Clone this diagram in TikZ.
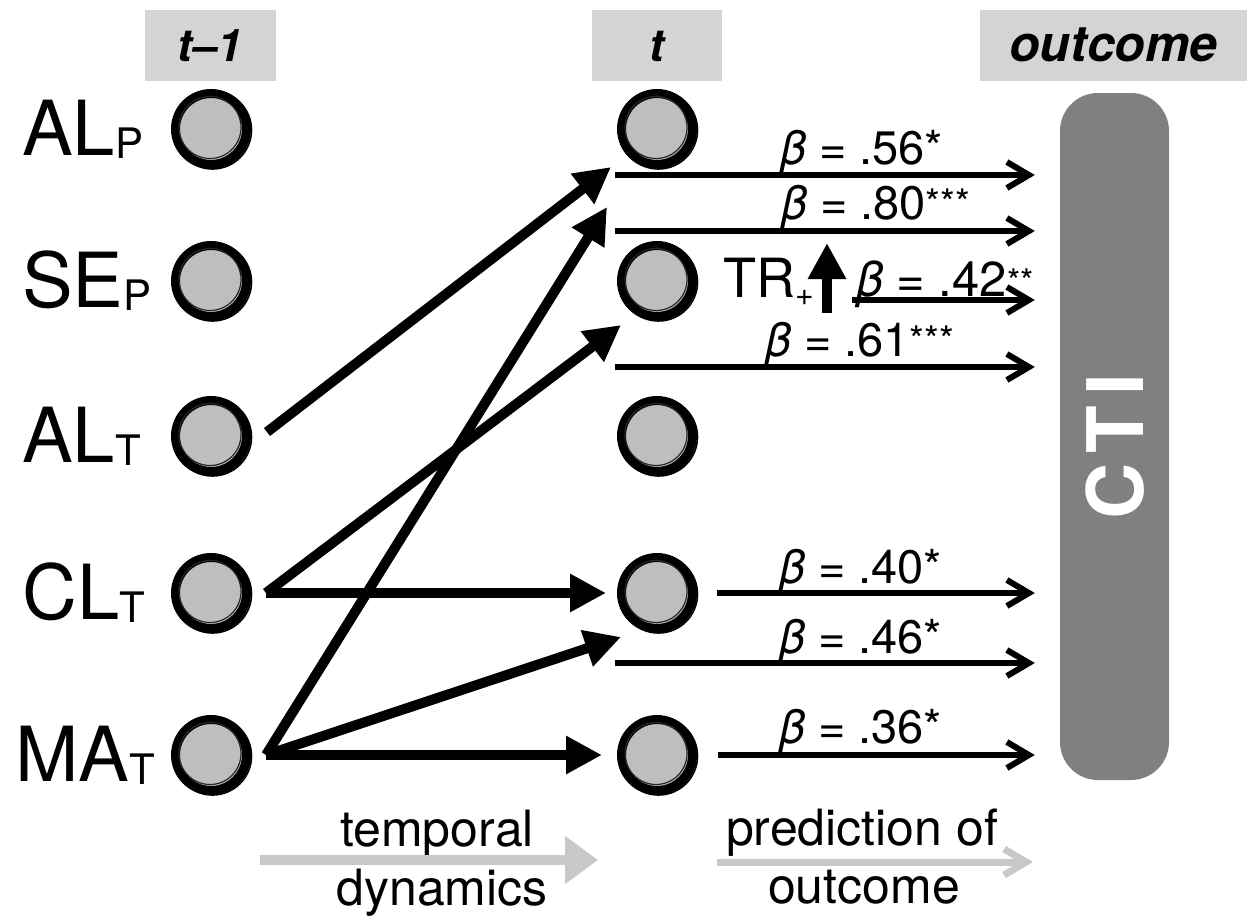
\documentclass[tikz,border=0pt]{standalone}
\usepackage{fontspec}
\setmainfont{TeX Gyre Heros}
\usetikzlibrary{arrows.meta,calc}
\definecolor{hdr}{HTML}{D4D4D4}
\definecolor{dotfill}{HTML}{BEBEBE}
\definecolor{barfill}{HTML}{808080}
\definecolor{lgray}{HTML}{C8C8C8}
\newcommand\fs[1]{\fontsize{#1}{#1}\selectfont}
\newcommand\lsub[1]{{\fs{42}\raisebox{-3pt}{#1}}}
\newcommand\bet{{\itshape β}}
\newcommand\stars[1]{{\fs{38}\raisebox{3pt}{#1}}}
\begin{document}
\begin{tikzpicture}[x=1pt,y=-1pt,
  hdrbox/.style={fill=hdr, inner sep=0pt, minimum height=71pt, text height=32pt, text depth=0pt, font=\fs{45}\bfseries\itshape},
  dot/.style={circle, draw=black, line width=9pt, fill=dotfill, minimum size=71pt, inner sep=0pt},
  varlab/.style={anchor=base west, inner sep=0pt, font=\fs{76}},
  dyn/.style={line width=10pt, -{Triangle[length=36pt,width=36pt]}},
  pred/.style={line width=6pt, -{Straight Barb[length=22pt,width=26pt]}},
  betalab/.style={anchor=base west, inner sep=0pt, font=\fs{47}},
  bottomlab/.style={anchor=base, inner sep=0pt, font=\fs{50}},
  sketch/.style={line width=1.6pt, black},
  grayarrow/.style={lgray},
]
\useasboundingbox (0,0) rectangle (1247,919);

% headers
\node[hdrbox, minimum width=131pt] (h1) at (210.5,45.5) {t–1};
\node[hdrbox, minimum width=130pt] (h2) at (657,45.5) {t};
\node[hdrbox, minimum width=267pt, font=\fs{50}\bfseries\itshape] (h3) at (1113.5,45.5) {outcome};

% outcome bar
\node[fill=barfill, rounded corners=38pt, minimum width=109pt, minimum height=687pt, inner sep=0pt] (cti) at (1114.5,436.5) {};
\node[rotate=90, text=white, font=\fs{78}\bfseries, inner sep=0pt] (ctitext) at (1115,447) {C\kern10pt T\kern10pt I};

% circles
\foreach \i/\y in {1/129,2/281,3/436,4/593,5/755} {
  \node[dot] (l\i) at (211,\y) {};
  \node[dot] (t\i) at (657,\y) {};
}
\foreach \n in {l1,l2,l3,l4,l5,t1,t2,t3,t4,t5} {
  \draw[sketch] ([shift={(1.5pt,-1pt)}]\n.center) circle (39pt);
  \draw[line width=1.2pt, black!85] ([shift={(-1pt,1.5pt)}]\n.center) circle (31pt);
}

% variable labels
\node[varlab] (lab1) at (22,155) {AL\lsub{P}};
\node[varlab] (lab2) at (22,307) {SE\lsub{P}};
\node[varlab] (lab3) at (22,462) {AL\lsub{T}};
\node[varlab] (lab4) at (22,619) {CL\lsub{T}};
\node[varlab] (lab5) at (15,781) {MA\lsub{T}};

% temporal dynamics arrows
\coordinate (s3) at ($(l3.center)+(56,-4)$);
\coordinate (s4) at ($(l4.center)+(55,0)$);
\coordinate (s5) at ($(l5.center)+(55,0)$);
\coordinate (e1) at (611,167);
\coordinate (e2) at (621,325);
\coordinate (e3) at (607,207);
\coordinate (e4) at (621,637);
\draw[dyn] (s3) -- (e1);
\draw[dyn] (s4) -- (e2);
\draw[dyn, shorten >=11pt] (s4) -- (t4);
\draw[dyn] (s5) -- (e3);
\draw[dyn] (s5) -- (e4);
\draw[dyn, shorten >=15pt] (s5) -- (t5);

% prediction arrows
\coordinate (p1) at (615,175);
\coordinate (p2) at (615,231);
\coordinate (p3) at (852,300);
\coordinate (p4) at (615,367);
\coordinate (p5) at (717,593);
\coordinate (p6) at (615,663);
\coordinate (p7) at (718,755);
\foreach \p in {p1,p2,p3,p4,p5,p6,p7}
  \draw[pred, shorten >=25pt] (\p) -- (\p -| cti.west);

\node[betalab] (b1) at (780,164) {\bet{} = .56*};
\node[betalab] (b2) at (781,219) {\bet{} = .80\stars{***}};
\node[betalab, font=\fs{49}] (b3) at (856,296) {\bet{} = .42{\fs{34}\raisebox{3pt}{**}}};
\node[betalab] (b4) at (765,356) {\bet{} = .61\stars{***}};
\node[betalab] (b5) at (779,583) {\bet{} = .40*};
\node[betalab] (b6) at (779,653) {\bet{} = .46*};
\node[betalab] (b7) at (779,743) {\bet{} = .36*};

% TR+ moderator
\node[anchor=base west, inner sep=0pt, font=\fs{54}] (tr) at (723,297) {TR{\fs{32}\raisebox{-8pt}{+}}};
\coordinate (u0) at (827,313);
\coordinate (u1) at (827,243);
\draw[dyn] (u0) -- (u1);

% bottom legend
\node[bottomlab] (bl1) at (437,846) {temporal};
\node[bottomlab] (bl2) at (442,905) {dynamics};
\node[bottomlab] (bl3) at (862,845) {prediction of};
\node[bottomlab] (bl4) at (864,903) {outcome};
\coordinate (g1) at (260,860);
\coordinate (g2) at (598,860);
\draw[grayarrow, line width=10pt, -{Triangle[length=33pt,width=46pt]}] (g1) -- (g2);
\coordinate (g3) at (717,862);
\coordinate (g4) at (1033,862);
\draw[grayarrow, line width=7pt, -{Straight Barb[length=22pt,width=26pt]}] (g3) -- (g4);
\end{tikzpicture}
\end{document}
